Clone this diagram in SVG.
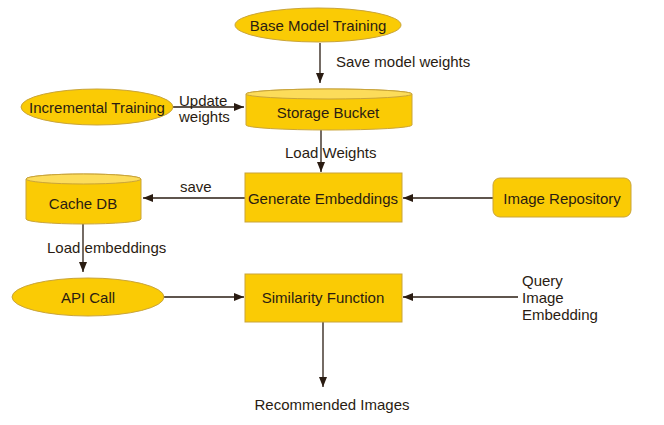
<svg xmlns="http://www.w3.org/2000/svg" width="664" height="425" viewBox="0 0 664 425">
<style>
.n{fill:#FACB05;stroke:#C9A43A;stroke-width:1}
.top{fill:#FCDC5A;stroke:#C9A43A;stroke-width:1}
.t{font-family:"Liberation Sans",Arial,sans-serif;font-size:15px;fill:#2A1C12;text-anchor:middle;dominant-baseline:central}
.l{font-family:"Liberation Sans",Arial,sans-serif;font-size:15px;fill:#2A1C12;dominant-baseline:central}
.c{stroke:#2A1C12;stroke-width:1.3;fill:none;marker-end:url(#a)}
</style>
<defs>
<marker id="a" viewBox="0 0 10 8" refX="10" refY="4" markerWidth="10" markerHeight="8" markerUnits="userSpaceOnUse" orient="auto">
<path d="M0,0 L10,4 L0,8 Z" fill="#2A1C12"/>
</marker>
</defs>
<rect width="664" height="425" fill="#FFFFFF"/>
<g id="connectors">
<line class="c" x1="320" y1="43" x2="320" y2="83"/>
<line class="c" x1="173" y1="107" x2="244" y2="107"/>
<line class="c" x1="321" y1="130" x2="321" y2="172"/>
<line class="c" x1="245" y1="198" x2="143" y2="198"/>
<line class="c" x1="493" y1="198" x2="403" y2="198"/>
<line class="c" x1="83" y1="224" x2="83" y2="272"/>
<line class="c" x1="163" y1="297" x2="244" y2="297"/>
<line class="c" x1="518" y1="297" x2="403" y2="297"/>
<line class="c" x1="323" y1="322" x2="323" y2="387"/>
<text class="l" x="336" y="61">Save model weights</text>
<text class="l" x="179" y="100">Update</text>
<text class="l" x="179" y="116">weights</text>
<text class="l" x="285" y="152">Load Weights</text>
<text class="l" x="180" y="186">save</text>
<text class="l" x="47" y="247">Load embeddings</text>
<text class="l" x="522" y="280">Query</text>
<text class="l" x="522" y="297">Image</text>
<text class="l" x="522" y="314">Embedding</text>
<text class="t" x="332" y="404">Recommended Images</text>
</g>
<g id="base-model-training">
<ellipse class="n" cx="318" cy="25" rx="83" ry="17"/>
<text class="t" x="318" y="25">Base Model Training</text>
</g>
<g id="incremental-training">
<ellipse class="n" cx="97" cy="107" rx="76" ry="18"/>
<text class="t" x="97" y="107">Incremental Training</text>
</g>
<g id="storage-bucket">
<path class="n" d="M246,94 A83,5 0 0,1 412,94 V125 A83,5 0 0,1 246,125 Z"/>
<ellipse class="top" cx="329" cy="94" rx="83" ry="5"/>
<text class="t" x="328" y="112">Storage Bucket</text>
</g>
<g id="generate-embeddings">
<rect class="n" x="245" y="173" width="157" height="49"/>
<text class="t" x="323" y="198">Generate Embeddings</text>
</g>
<g id="cache-db">
<path class="n" d="M26,179 A57.5,5 0 0,1 141,179 V219 A57.5,5 0 0,1 26,219 Z"/>
<ellipse class="top" cx="83.5" cy="179" rx="57.5" ry="5"/>
<text class="t" x="83" y="203">Cache DB</text>
</g>
<g id="image-repository">
<rect class="n" x="493" y="178" width="138" height="39" rx="7"/>
<text class="t" x="562" y="198">Image Repository</text>
</g>
<g id="api-call">
<ellipse class="n" cx="88" cy="297" rx="76" ry="19"/>
<text class="t" x="88" y="297">API Call</text>
</g>
<g id="similarity-function">
<rect class="n" x="245" y="274" width="157" height="48"/>
<text class="t" x="323" y="297">Similarity Function</text>
</g>
</svg>
